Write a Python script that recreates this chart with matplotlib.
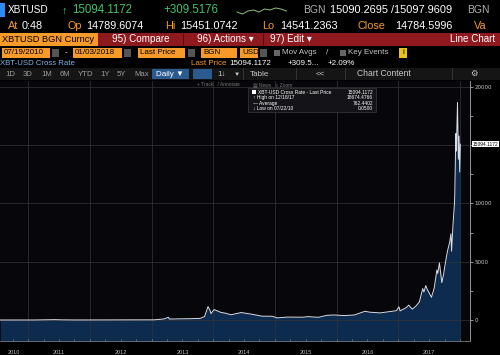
import matplotlib
matplotlib.use("Agg")
import matplotlib.pyplot as plt
import matplotlib.dates as mdates
from matplotlib.patches import Rectangle
from matplotlib.ticker import MultipleLocator, NullFormatter
import datetime as dt

# price history (XBT-USD, last price)
dates = ["2010-07-19", "2011-02-01", "2011-06-08", "2011-07-15", "2011-10-15", "2012-01-15",
         "2012-08-15", "2013-01-15", "2013-03-15", "2013-04-09", "2013-04-16", "2013-06-15",
         "2013-08-15", "2013-10-15", "2013-11-10", "2013-11-30", "2013-12-10", "2013-12-18",
         "2014-01-05", "2014-02-15", "2014-03-15", "2014-04-15", "2014-06-15", "2014-08-15",
         "2014-10-15", "2014-12-15", "2015-01-14", "2015-03-15", "2015-06-15", "2015-07-15",
         "2015-09-15", "2015-11-04", "2015-12-15", "2016-02-15", "2016-04-15", "2016-06-17",
         "2016-07-15", "2016-09-15", "2016-11-15", "2016-12-20", "2017-01-04", "2017-01-11",
         "2017-02-15", "2017-03-03", "2017-03-24", "2017-04-15", "2017-05-05", "2017-05-25",
         "2017-06-01", "2017-06-12", "2017-06-20", "2017-07-16", "2017-08-01", "2017-08-17",
         "2017-08-22", "2017-09-01", "2017-09-15", "2017-09-25", "2017-10-12", "2017-10-20",
         "2017-11-01", "2017-11-08", "2017-11-12", "2017-11-20", "2017-11-29", "2017-12-01",
         "2017-12-07", "2017-12-10", "2017-12-17", "2017-12-22", "2017-12-26", "2017-12-30",
         "2018-01-03"]
prices = [0.08, 1, 30, 14, 3, 6,
          12, 15, 90, 230, 80, 100,
          110, 140, 300, 1150, 900, 550,
          900, 650, 580, 450, 640, 500,
          330, 320, 180, 250, 240, 290,
          230, 400, 430, 380, 430, 750,
          670, 610, 730, 800, 1130, 780,
          1050, 1270, 930, 1200, 1550, 2700,
          2400, 2950, 2650, 1950, 2750, 4300,
          4000, 4900, 3200, 3900, 5400, 6000,
          6700, 7400, 5900, 8100, 10000, 10900,
          16000, 14500, 18674, 13800, 15800, 12700,
          15094]
years = [2010, 2011, 2012, 2013, 2014, 2015, 2016, 2017]
yticks = [0, 5000, 10000, 15000, 20000]
ytick_labels = ["0", "5000", "10000", "", "20000"]  # 15000 sits under the last-price tag
last_price = 15094.1172

FONT = ["Liberation Sans", "DejaVu Sans"]
ORANGE = "#f79a2a"
RED = "#8e1a1f"
GREEN = "#3fc46a"
BLUE_T = "#7fb3e6"

fig = plt.figure(figsize=(5, 3.55), dpi=100, facecolor="black")


def P(x, y):
    return x / 500, 1 - y / 355


def box(x0, y0, x1, y1, color, ec="none", lw=0.5):
    fx, fy = P(x0, y1)
    fig.patches.append(Rectangle((fx, fy), (x1 - x0) / 500, (y1 - y0) / 355,
                                 transform=fig.transFigure, facecolor=color,
                                 edgecolor=ec, lw=lw))


def txt(x, y, s, color="white", size=8, ha="left", family=FONT):
    fx, fy = P(x, y)
    fig.text(fx, fy, s, color=color, fontsize=size, ha=ha, va="center",
             family=family)


# row 1: ticker and quote
box(0, 3, 5, 17, "#2a8bf2")
txt(8, 10, "XBTUSD", size=7.2)
txt(62, 10, "\u2191", color=GREEN, size=8)
txt(72, 10, "15094.1172", color=GREEN, size=8.3)
txt(163, 10, "+309.5176", color=GREEN, size=8.3)
spark = [9, 11, 8, 7, 9, 6, 7, 5, 6, 8]
fig.lines.append(plt.Line2D([P(237 + i * 5.5, 0)[0] for i in range(10)],
                            [P(0, 3 + v)[1] for v in spark],
                            transform=fig.transFigure, color="#8fbf7f", lw=0.7))
txt(303, 10, "BGN", color="#b0b0b0", size=7.5)
txt(330, 10, "15090.2695 /15097.9609", size=7.9)
txt(467, 10, "BGN", color="#b0b0b0", size=7.5)

# row 2: session stats
row2 = [(8, "At", 22, "0:48"), (67, "Op", 86, "14789.6074"), (165, "Hi", 180, "15451.0742"),
        (262, "Lo", 280, "14541.2363"), (358, "Close", 395, "14784.5996")]
for lx, lab, vx, val in row2:
    txt(lx, 26, lab, color=ORANGE, size=7.8)
    txt(vx, 26, val, size=7.8)
txt(474, 26, "Va", color=ORANGE, size=7.8)

# row 3: menu bar
box(0, 33, 98, 46, ORANGE)
txt(2, 39.5, "XBTUSD BGN Curncy", color="black", size=6.7)
box(98, 33, 500, 46, RED)
for sx in [183, 263]:
    box(sx, 33, sx + 1, 46, "#5a0d10")
txt(112, 39.5, "95) Compare", size=7.1)
txt(197, 39.5, "96) Actions \u25be", size=7.1)
txt(270, 39.5, "97) Edit \u25be", size=7.1)
txt(495, 39.5, "Line Chart", size=7.1, ha="right")

# row 4: date range and options
for x0, x1, s in [(2, 50, "07/19/2010"), (73, 122, "01/03/2018"), (138, 185, "Last Price"),
                  (201, 237, "BGN"), (240, 258, "USD")]:
    box(x0, 48, x1, 58, ORANGE)
    txt(x0 + 2, 53, s, color="black", size=5.8)
for x0 in [52, 124, 188, 260]:
    box(x0, 49, x0 + 7, 57, "#555555")
txt(65, 53, "-", size=6)
box(274, 50, 280, 56, "#666666")
txt(282, 53, "Mov Avgs", color="#c8c8c8", size=5.8)
txt(326, 53, "/", color="#c8c8c8", size=6)
box(340, 50, 346, 56, "#666666")
txt(348, 53, "Key Events", color="#c8c8c8", size=5.8)
box(399, 48, 407, 58, "#e8c21a")
txt(403, 53, "i", color="black", size=6, ha="center")

# row 5: security description
txt(0, 63.5, "XBT-USD Cross Rate", color=BLUE_T, size=5.6)
txt(191, 63.5, "Last Price", color=ORANGE, size=5.8)
txt(229, 63.5, "15094.1172", size=5.8)
txt(288, 63.5, "+309.5...", size=5.8)
txt(328, 63.5, "+2.09%", size=5.8)

# row 6: toolbar
box(0, 68, 500, 80, "#151515")
for x, s in [(5, "1D"), (23, "3D"), (41, "1M"), (60, "6M"), (78, "YTD"), (100, "1Y"), (117, "5Y"), (134, "Max")]:
    txt(x, 74, s, color="#9a9a9a", size=5.6)
box(152, 69, 189, 79, "#2b5b8e")
txt(156, 74, "Daily \u25bc", size=5.8)
box(193, 69, 212, 79, "#2b5b8e")
txt(217, 74, "1\u2193", color="#c8c8c8", size=5.8)
txt(234, 74, "\u25bc", color="#c8c8c8", size=4.5)
for sx in [243, 296, 345, 452]:
    box(sx, 68, sx + 1, 80, "#333333")
txt(250, 74, "Table", color="#c8c8c8", size=5.8)
txt(316, 74, "<<", color="#c8c8c8", size=5.8)
txt(357, 74, "Chart Content", color="#c8c8c8", size=6.2)
txt(470, 74, "\u2699", color="#c8c8c8", size=6)
txt(197, 84.5, "+ Track   / Annotate", color="#777777", size=3.5)
txt(253, 84.5, "\u25a4 News   \u25cb Zoom", color="#777777", size=3.5)

# chart
ax = fig.add_axes([0, 14 / 355, 470 / 500, 260 / 355], facecolor="#07070b")
x = [dt.datetime.strptime(d, "%Y-%m-%d") for d in dates]
ybot = -1803
ax.fill_between(x, prices, ybot, color="#0d2a4f", lw=0)
ax.plot(x, prices, color="#d8dde6", lw=0.7)
ax.set_xlim(dt.datetime(2010, 7, 17), dt.datetime(2018, 3, 1))
ax.set_ylim(ybot, 20515)
ax.yaxis.tick_right()
ax.set_yticks(yticks)
ax.set_yticklabels(ytick_labels)
ax.yaxis.set_minor_locator(MultipleLocator(2500))
ax.tick_params(axis="y", which="both", colors="#c8c8c8", labelsize=4, length=2, width=0.5, pad=1)
ax.xaxis.set_major_locator(mdates.YearLocator())
ax.xaxis.set_major_formatter(NullFormatter())
ax.xaxis.set_minor_locator(mdates.MonthLocator(bymonth=(4, 7, 10)))
ax.tick_params(axis="x", which="both", colors="#888888", length=1.5, width=0.5, direction="in")
ax.grid(True, which="major", color="#34343a", lw=0.5)
for s in ["top", "left"]:
    ax.spines[s].set_visible(False)
ax.spines["right"].set_color("#aaaaaa")
ax.spines["bottom"].set_color("#777777")
ax.spines["right"].set_linewidth(0.6)
ax.spines["bottom"].set_linewidth(0.6)
for yr in years:
    mid = dt.datetime(yr, 7, 2) if yr > 2010 else dt.datetime(2010, 10, 10)
    ax.text(mid, -0.045, str(yr), transform=ax.get_xaxis_transform(), color="#bbbbbb",
            fontsize=4, ha="center", va="center", family=FONT)

# last price tag on the axis
ax.annotate("%.4f" % last_price, xy=(1.0, last_price), xycoords=("axes fraction", "data"),
            xytext=(2, 0), textcoords="offset points", fontsize=3.5, color="black",
            va="center", ha="left", family=FONT, annotation_clip=False,
            bbox=dict(boxstyle="square,pad=0.15", fc="white", ec="none"))

# legend panel
box(248, 88, 376, 112, "#141418", ec="#3a3a3a")
box(252, 90, 256, 94, "white")
rows = [("XBT-USD Cross Rate - Last Price", "15094.1172"), ("\u2191 High on 12/18/17", "18674.4766"),
        ("\u2014 Average", "762.4402"), ("\u2193 Low on 07/22/10", "0.0500")]
for i, (lab, val) in enumerate(rows):
    yy = 92 + i * 5.6
    txt(258 if i == 0 else 253, yy, lab, size=3.5)
    txt(373, yy, val, size=3.5, ha="right")

fig.savefig("out.png", dpi=100, facecolor="black")
